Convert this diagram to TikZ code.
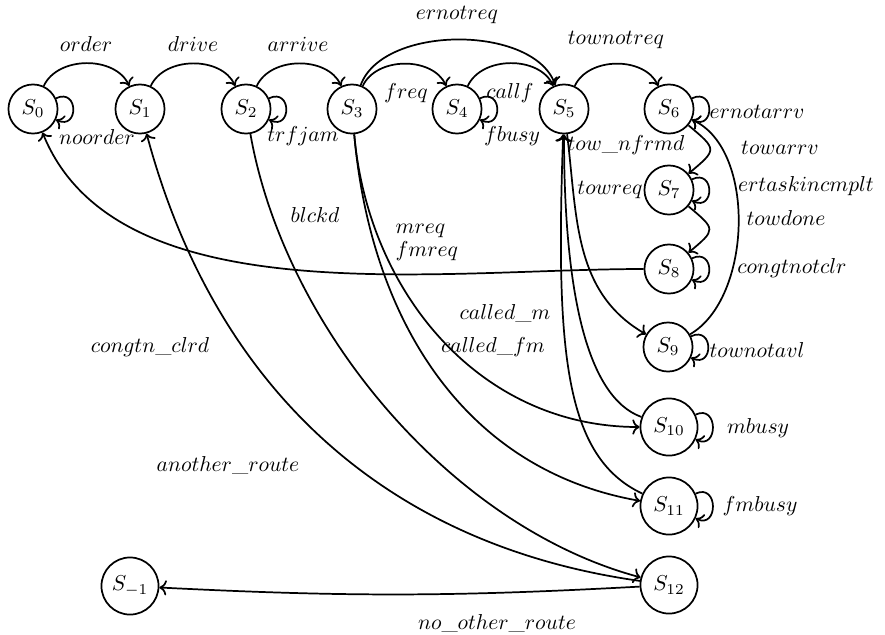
\documentclass[tikz,border=0pt]{standalone}
\usepackage{amsmath}
\usepackage{tikz}
\usetikzlibrary{arrows.meta}
\tikzset{
  st/.style={circle,draw,thick,minimum size=8mm,inner sep=1pt},
  bigst/.style={st,minimum size=9.3mm},
  tr/.style={->,thick},
  selfloop/.style={->,thick,out=25,in=-25,loop,min distance=4.1mm},
  lbl/.style={inner sep=1pt}
}

\begin{document}
\begin{tikzpicture}[x=0.0163cm,y=0.0163cm]
\useasboundingbox (0,0) rectangle (885,-634);
% states
\node[st] (S0) at (33,-109) {$S_0$};
\node[st] (S1) at (140,-109) {$S_1$};
\node[st] (S2) at (246,-109) {$S_2$};
\node[st] (S3) at (352,-109) {$S_3$};
\node[st] (S4) at (457,-109) {$S_4$};
\node[st] (S5) at (564,-109) {$S_5$};
\node[st] (S6) at (669,-109) {$S_6$};
\node[st] (S7) at (669,-190) {$S_7$};
\node[st] (S8) at (669,-269) {$S_8$};
\node[st] (S9) at (668,-347) {$S_9$};
\node[bigst] (S10) at (669,-427) {$S_{10}$};
\node[bigst] (S11) at (669,-506) {$S_{11}$};
\node[bigst] (S12) at (669,-585) {$S_{12}$};
\node[bigst] (Sm1) at (130,-586) {$S_{-1}$};

% top row
\draw[tr] (S0) to[bend left=65] (S1);
\draw[tr] (S1) to[bend left=65] (S2);
\draw[tr] (S2) to[bend left=65] (S3);
\draw[tr] (S3) to[bend left=65] (S4);
\draw[tr] (S4) to[bend left=65] (S5);
\draw[tr] (S5) to[bend left=65] (S6);
\draw[tr] (S3) to[out=70,in=110,looseness=0.85] (S5);

% self loops
\foreach \s in {S0,S2,S4,S6,S7,S8,S9,S10,S11}
  \draw[selfloop] (\s) to (\s);

% right column
\draw[tr] (S6) to[out=-40,in=40,looseness=2] (S7);
\draw[tr] (S7) to[out=-40,in=40,looseness=2] (S8);
\draw[tr] (S9) to[out=30,in=-25,looseness=0.85] (S6);
\draw[tr] (S5) to[out=-83,in=150] (S9);
\draw[tr] (S8) to[out=180,in=-68,out looseness=0.86,in looseness=0.82] (S0);

% long arcs
\draw[tr] (S10) to[out=160,in=-90,out looseness=0.5,in looseness=1.4] (S5);
\draw[tr] (S11) to[out=155,in=-92,out looseness=0.6,in looseness=1.5] (S5);
\draw[tr] (S3) to[out=-85,in=180] (S10);
\draw[tr] (S3) to[out=-85,in=170] (S11);
\draw[tr] (S2) to[out=-80,in=165,looseness=0.85] (S12);
\draw[tr] (S12) to[out=172,in=-75] (S1);
\draw[tr] (S12) to[bend left=3] (Sm1);

% labels
\node[lbl] (lorder) at (86,-44) {$order$};
\node[lbl] (ldrive) at (193,-44) {$drive$};
\node[lbl] (larrive) at (298,-44) {$arrive$};
\node[lbl] (lernotreq) at (457,-15) {$ernotreq$};
\node[lbl] (lfreq) at (406,-93) {$freq$};
\node[lbl] (lcallf) at (510,-93) {$callf$};
\node[lbl] (ltownotreq) at (616,-40) {$townotreq$};
\node[lbl] (lnoorder) at (97,-137) {$noorder$};
\node[lbl] (ltrfjam) at (303,-136) {$trfjam$};
\node[lbl] (lfbusy) at (512,-136) {$fbusy$};
\node[lbl] (ltownfrmd) at (626,-145) {$tow\_nfrmd$};
\node[lbl] (lernotarrv) at (757,-112) {$ernotarrv$};
\node[lbl] (ltowarrv) at (780,-148) {$towarrv$};
\node[lbl] (ltowreq) at (610,-190) {$towreq$};
\node[lbl] (lertask) at (806,-186) {$ertaskincmplt$};
\node[lbl] (ltowdone) at (786,-218) {$towdone$};
\node[lbl] (lcongtnotclr) at (792,-268) {$congtnotclr$};
\node[lbl] (ltownotavl) at (757,-350) {$townotavl$};
\node[lbl] (lblckd) at (315,-215) {$blckd$};
\node[lbl,anchor=west] (lmreq) at (393,-231) {$mreq$};
\node[lbl,anchor=west] (lfmreq) at (393,-251) {$fmreq$};
\node[lbl] (lcalledm) at (505,-313) {$called\_m$};
\node[lbl] (lcalledfm) at (493,-347) {$called\_fm$};
\node[lbl] (lcongtnclrd) at (150,-347) {$congtn\_clrd$};
\node[lbl] (lanother) at (228,-465) {$another\_route$};
\node[lbl] (lmbusy) at (758,-428) {$mbusy$};
\node[lbl] (lfmbusy) at (760,-506) {$fmbusy$};
\node[lbl] (lnoother) at (497,-623) {$no\_other\_route$};
\end{tikzpicture}
\end{document}
